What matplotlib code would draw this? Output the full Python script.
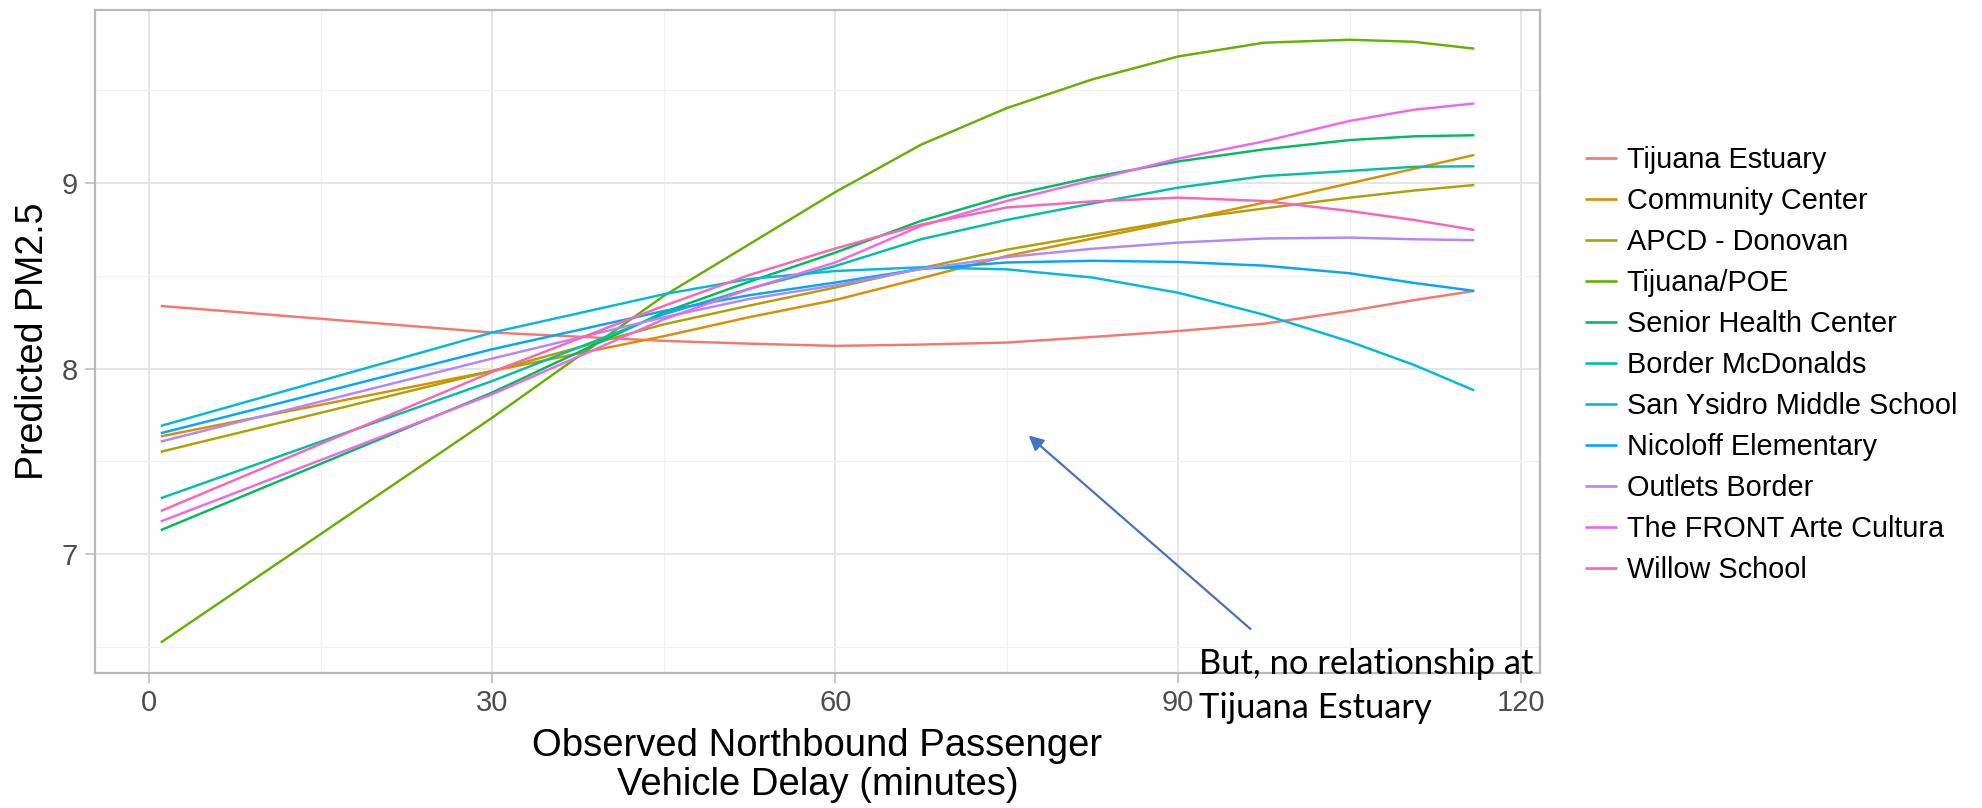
import matplotlib
matplotlib.use("Agg")
import matplotlib.pyplot as plt
from matplotlib.ticker import MultipleLocator

# ---- data ----
delay = [1, 30, 45, 52.5, 60, 67.5, 75, 82.5, 90, 97.5, 105, 110.6, 115.9]

sites = ["Tijuana Estuary", "Community Center", "APCD - Donovan", "Tijuana/POE",
         "Senior Health Center", "Border McDonalds", "San Ysidro Middle School",
         "Nicoloff Elementary", "Outlets Border", "The FRONT Arte Cultura", "Willow School"]

tijuana_estuary = [8.337, 8.194, 8.149, 8.134, 8.122, 8.129, 8.140, 8.170, 8.202, 8.241, 8.310, 8.368, 8.418]
community_center = [7.635, 7.987, 8.174, 8.277, 8.369, 8.486, 8.606, 8.700, 8.794, 8.893, 8.997, 9.075, 9.150]
apcd_donovan = [7.552, 7.987, 8.238, 8.339, 8.436, 8.540, 8.640, 8.720, 8.800, 8.862, 8.920, 8.958, 8.988]
tijuana_poe = [6.525, 7.736, 8.391, 8.670, 8.950, 9.205, 9.402, 9.557, 9.680, 9.754, 9.770, 9.759, 9.722]
senior_health = [7.130, 7.871, 8.303, 8.468, 8.624, 8.795, 8.929, 9.030, 9.115, 9.180, 9.230, 9.250, 9.256]
border_mcdonalds = [7.302, 7.933, 8.292, 8.430, 8.552, 8.696, 8.800, 8.889, 8.974, 9.036, 9.064, 9.086, 9.089]
san_ysidro = [7.691, 8.194, 8.400, 8.482, 8.525, 8.545, 8.534, 8.490, 8.408, 8.290, 8.145, 8.020, 7.882]
nicoloff = [7.652, 8.104, 8.310, 8.395, 8.463, 8.536, 8.571, 8.580, 8.574, 8.554, 8.513, 8.461, 8.418]
outlets_border = [7.607, 8.054, 8.276, 8.375, 8.448, 8.536, 8.600, 8.645, 8.678, 8.700, 8.705, 8.696, 8.691]
front_arte = [7.177, 7.862, 8.265, 8.429, 8.571, 8.768, 8.902, 9.014, 9.130, 9.223, 9.333, 9.393, 9.427]
willow_school = [7.233, 7.982, 8.337, 8.504, 8.646, 8.775, 8.867, 8.900, 8.920, 8.902, 8.848, 8.800, 8.746]

series = [tijuana_estuary, community_center, apcd_donovan, tijuana_poe, senior_health,
          border_mcdonalds, san_ysidro, nicoloff, outlets_border, front_arte, willow_school]

colors = ["#F8766D", "#DB8E00", "#AEA200", "#64B200", "#00BD5C", "#00C1A7",
          "#00BADE", "#00A6FF", "#B385FF", "#EF67EB", "#FF63B6"]

x_ticks = [0, 30, 60, 90, 120]
y_ticks = [7, 8, 9]

# ---- figure ----
W, H = 1982, 808
fig = plt.figure(figsize=(W / 100, H / 100), dpi=100)
plt.rcParams['font.family'] = ['Liberation Sans', 'DejaVu Sans']

ax = fig.add_axes([95.1 / W, 1 - 672.7 / H, (1540 - 95.1) / W, (672.7 - 9.6) / H])

for name, vals, c in zip(sites, series, colors):
    ax.plot(delay, vals, color=c, lw=1.75, label=name, solid_capstyle='butt',
            solid_joinstyle='round')

ax.margins(x=0.05, y=0.05)
ax.set_xticks(x_ticks)
ax.set_yticks(y_ticks)
ax.xaxis.set_minor_locator(MultipleLocator(15))
ax.yaxis.set_minor_locator(MultipleLocator(0.5))
ax.grid(which='major', color='#E3E3E3', lw=1.3)
ax.grid(which='minor', color='#F1F1F1', lw=0.9)
ax.set_axisbelow(True)
for s in ax.spines.values():
    s.set_color('#B8B8B8')
    s.set_linewidth(1.6)
ax.tick_params(which='major', length=7, width=1.2, color='#BDBDBD',
               labelsize=21, labelcolor='#4D4D4D')
ax.tick_params(axis='x', which='major', pad=5)
ax.tick_params(axis='y', which='major', pad=5.5)
ax.tick_params(which='minor', length=0)

ax.set_ylabel("Predicted PM2.5", fontsize=27, color='black', labelpad=7.3)
ax.set_xlabel("Observed Northbound Passenger\nVehicle Delay (minutes)", fontsize=27.5,
              color='black', labelpad=8, linespacing=1.10)

# legend
leg = fig.legend(loc='upper left', bbox_to_anchor=(1585 / W, 1 - 146 / H),
                 frameon=False, fontsize=20.8, handlelength=1.1, handletextpad=0.34,
                 labelspacing=0.45, borderpad=0, borderaxespad=0)
for line in leg.get_lines():
    line.set_linewidth(1.9)

# annotation
ax.annotate("", xy=(1028.6 / W, 1 - 435.6 / H), xycoords='figure fraction',
            xytext=(1250.5 / W, 1 - 629 / H), textcoords='figure fraction',
            arrowprops=dict(arrowstyle='-|>', color='#4472C4', lw=1.6,
                            mutation_scale=22, shrinkA=0, shrinkB=0))
fig.text(1199 / W, 1 - 674 / H, "But, no relationship at", fontsize=24.8,
         family=['Lato', 'DejaVu Sans'], color='black', va='baseline', ha='left')
fig.text(1199 / W, 1 - 718 / H, "Tijuana Estuary", fontsize=24.8,
         family=['Lato', 'DejaVu Sans'], color='black', va='baseline', ha='left')

fig.savefig("out.png", dpi=100)
